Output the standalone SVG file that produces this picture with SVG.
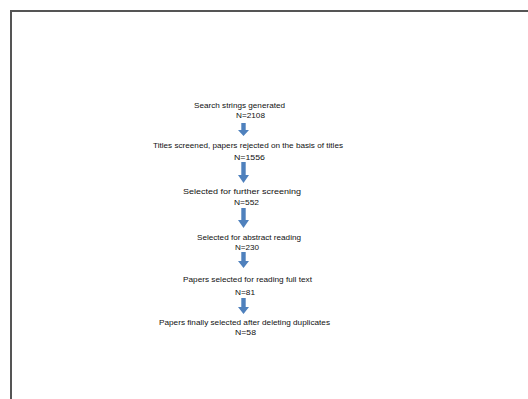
<svg xmlns="http://www.w3.org/2000/svg" width="528" height="399" viewBox="0 0 528 399">
<defs>
<style>
.t{font-family:"Liberation Sans",Arial,sans-serif;font-size:8px;fill:#111;}
.a{fill:#4F81BD;}
.b{stroke:#555;stroke-width:2;fill:none;}
</style>
</defs>
<rect width="528" height="399" fill="#fff"/>
<path class="b" d="M11,399 V11 H528"/>
<g id="n1"><text class="t" x="194" y="107.5" textLength="91" lengthAdjust="spacingAndGlyphs">Search strings generated</text><text class="t" x="236" y="118" textLength="29" lengthAdjust="spacingAndGlyphs">N=2108</text></g>
<g id="n2"><text class="t" x="153" y="147.5" textLength="190" lengthAdjust="spacingAndGlyphs">Titles screened, papers rejected on the basis of titles</text><text class="t" x="234" y="159.5" textLength="31" lengthAdjust="spacingAndGlyphs">N=1556</text></g>
<g id="n3"><text class="t" x="183" y="194" textLength="118" lengthAdjust="spacingAndGlyphs">Selected for further screening</text><text class="t" x="234" y="204.5" textLength="25" lengthAdjust="spacingAndGlyphs">N=552</text></g>
<g id="n4"><text class="t" x="197" y="239.5" textLength="104" lengthAdjust="spacingAndGlyphs">Selected for abstract reading</text><text class="t" x="235" y="250" textLength="24" lengthAdjust="spacingAndGlyphs">N=230</text></g>
<g id="n5"><text class="t" x="183" y="282" textLength="129" lengthAdjust="spacingAndGlyphs">Papers selected for reading full text</text><text class="t" x="235" y="294.5" textLength="20" lengthAdjust="spacingAndGlyphs">N=81</text></g>
<g id="n6"><text class="t" x="159" y="325" textLength="171" lengthAdjust="spacingAndGlyphs">Papers finally selected after deleting duplicates</text><text class="t" x="235" y="335" textLength="21" lengthAdjust="spacingAndGlyphs">N=58</text></g>
<g id="connectors">
<path class="a" d="M241.3,123 H245.7 V130 H249 L243.5,136 L238,130 H241.3 Z"/>
<path class="a" d="M241.3,162 H245.7 V175 H249 L243.5,183 L238,175 H241.3 Z"/>
<path class="a" d="M241.3,208 H245.7 V220 H249 L243.5,228 L238,220 H241.3 Z"/>
<path class="a" d="M241.3,252 H245.7 V261 H249 L243.5,268 L238,261 H241.3 Z"/>
<path class="a" d="M241.3,298 H245.7 V307 H249 L243.5,314 L238,307 H241.3 Z"/>
</g>
</svg>
